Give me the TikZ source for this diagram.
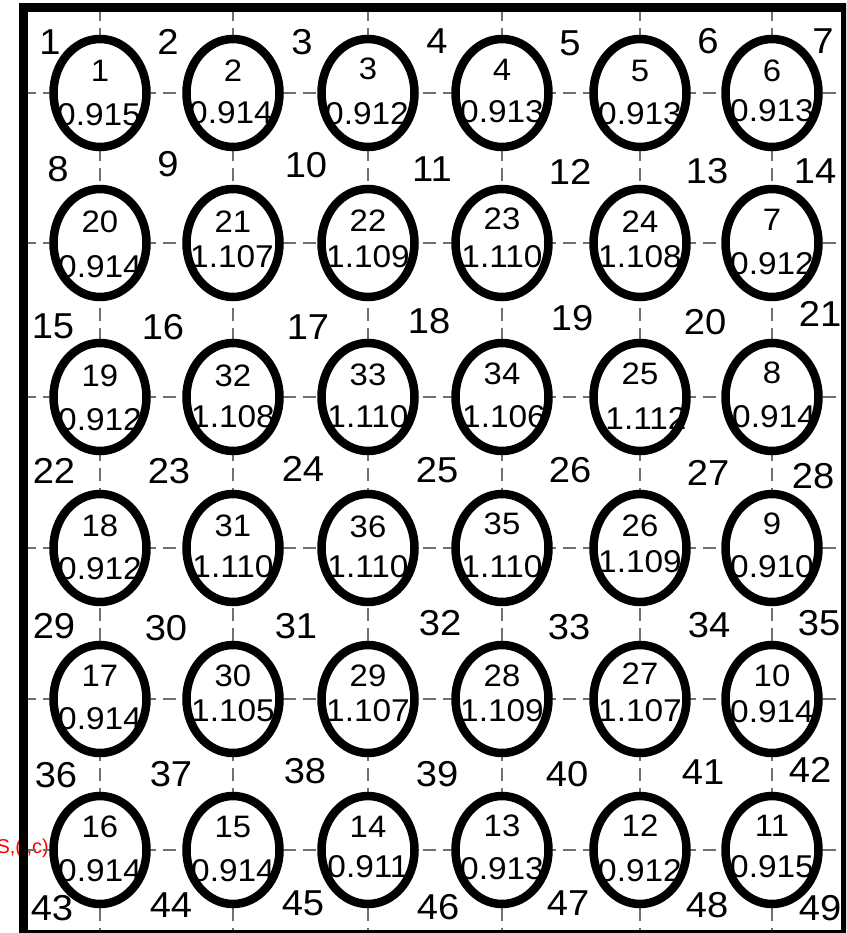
\documentclass[tikz,border=0pt]{standalone}
\usepackage{fontspec}
\usepackage{graphicx}
\setmainfont{Liberation Sans}
\usetikzlibrary{shapes.geometric}
\definecolor{gridgray}{HTML}{707070}
\newcommand\wdtxt[1]{\scalebox{1.06}[1]{#1}}
\tikzset{
  gridline/.style={draw=gridgray, line width=1.3pt, dash pattern=on 13pt off 7pt},
  cellfill/.style={ellipse, fill=white, draw=none, minimum width=101pt, minimum height=116pt, inner sep=0pt},
  ring/.style={draw=black, line width=8.5pt},
  idtext/.style={font=\fontsize{31}{31}\selectfont, inner sep=0pt},
  valtext/.style={font=\fontsize{31.5}{31.5}\selectfont, inner sep=0pt},
  ptlabel/.style={font=\fontsize{36}{36}\selectfont, inner sep=0pt},
  redlab/.style={font=\fontsize{20}{20}\selectfont, text=red, inner sep=0pt},
  frameline/.style={draw=black, line width=9pt}
}
\begin{document}
\begin{tikzpicture}[x=1pt,y=-1pt]
\useasboundingbox (0,0) rectangle (846,933);
\clip (0,0) rectangle (846,933);
\fill[white] (0,0) rectangle (846,933);
% red side label
\node[redlab, anchor=east] (sic) at (49,848) {S,(i,c)};
% dashed grid
\foreach \y in {93,243,397,548,699,850}
  \draw[gridline] (23,\y) -- (846,\y);
\foreach \x in {100,233,368,502,640,772}
  \draw[gridline] (\x,8) -- (\x,933);
% cells
\foreach \x/\y/\id/\val/\dn/\dv/\dx in {
100/93/1/0.915/-22/+22/-1, 233/93/2/0.914/-22/+20/-2, 368/93/3/0.912/-24/+21/-1,
502/93/4/0.913/-23/+19/+0, 640/93/5/0.913/-22/+21/+0, 772/93/6/0.913/-22/+18/+0,
100/243/20/0.914/-21/+24/+0, 233/243/21/1.107/-21/+14/-1, 368/243/22/1.109/-22/+14/+0,
502/243/23/1.110/-24/+14/+0, 640/243/24/1.108/-21/+14/+0, 772/243/7/0.912/-23/+21/+0,
100/397/19/0.912/-21/+23/+0, 233/397/32/1.108/-21/+20/+0, 368/397/33/1.110/-22/+20/+0,
502/397/34/1.106/-23/+20/+2, 640/397/25/1.112/-23/+21/+6, 772/397/8/0.914/-24/+20/+2,
100/548/18/0.912/-22/+21/+0, 233/548/31/1.110/-22/+19/+0, 368/548/36/1.110/-21/+19/+0,
502/548/35/1.110/-24/+19/+0, 640/548/26/1.109/-22/+14/+0, 772/548/9/0.910/-24/+19/+0,
100/699/17/0.914/-23/+20/+0, 233/699/30/1.105/-23/+12/+0, 368/699/29/1.107/-23/+12/+0,
502/699/28/1.109/-23/+12/+0, 640/699/27/1.107/-25/+12/+0, 772/699/10/0.914/-23/+13/+0,
100/850/16/0.914/-23/+21/+0, 233/850/15/0.914/-23/+21/+0, 368/850/14/0.911/-23/+17/+0,
502/850/13/0.913/-24/+19/+0, 640/850/12/0.912/-24/+21/+0, 772/850/11/0.915/-24/+17/+0}
{
  \node[cellfill] (c\id) at (\x,\y) {};
  \node[idtext] (n\id) at (\x,\y\dn) {\wdtxt{\id}};
  \node[valtext] (v\id) at (\x\dx,\y\dv) {\wdtxt{\val}};
  \draw[ring] (c\id.center) ellipse [x radius=46.5pt, y radius=54pt];
}
% grid point labels
\foreach \k/\x/\y in {
1/50/42, 2/168/42, 3/302/42, 4/437/41, 5/570/43, 6/708/41, 7/823/41,
8/58/169, 9/168/164, 10/306/165, 11/432/169, 12/570/172, 13/707/171, 14/815/171,
15/53/326, 16/163/327, 17/308/327, 18/429/321, 19/572/318, 20/705/322, 21/820/314,
22/54/471, 23/169/471, 24/303/469, 25/437/470, 26/570/470, 27/708/473, 28/813/476,
29/54/626, 30/166/628, 31/296/626, 32/440/623, 33/569/627, 34/709/625, 35/819/623,
36/56/775, 37/171/774, 38/305/771, 39/437/774, 40/567/774, 41/703/772, 42/810/770,
43/52/908, 44/171/905, 45/303/903, 46/438/907, 47/568/903, 48/707/905, 49/820/908}
{
  \node[ptlabel] (p\k) at (\x,\y) {\wdtxt{\k}};
}
% frame
\draw[frameline] (23,8) rectangle (845.5,934.5);
\end{tikzpicture}
\end{document}
